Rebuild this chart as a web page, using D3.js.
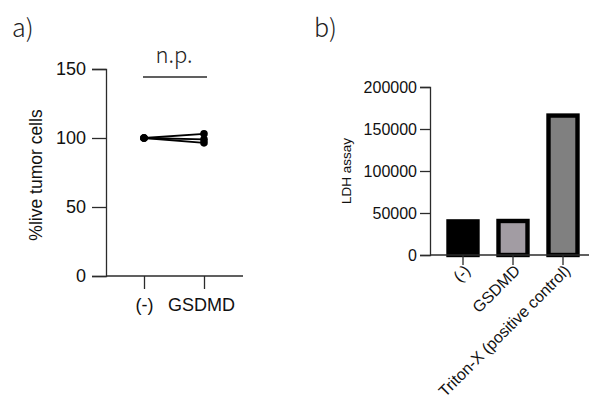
<!DOCTYPE html>
<html>
<head>
<meta charset="utf-8">
<script src="https://cdn.jsdelivr.net/npm/d3@7"></script>
<style>
  body { margin: 0; background: #fff; }
  svg { display: block; }
  svg text { font-family: "Liberation Sans", Arial, Helvetica, sans-serif; }
  svg text.panel-label { font-family: "Noto Sans CJK JP", "Noto Sans", sans-serif; font-weight: 300; fill: #222; }
</style>
</head>
<body>
<div id="chart"></div>
<script>
// panel a: paired values, %live tumor cells
const groupsA = ["(-)", "GSDMD"];
const controlVals = [100, 100, 100];
const gsdmdVals = [103, 99, 96.5];
const ticksA = [0, 50, 100, 150];

// panel b: LDH assay
const groupsB = ["(-)", "GSDMD", "Triton-X (positive control)"];
const ldhVals = [40000, 40500, 166000];
const ldhColors = ["#000000", "#a29ca3", "#808080"];
const ticksB = [0, 50000, 100000, 150000, 200000];

const width = 589;
const height = 398;
const axisColor = "#2b2b2b";

const svg = d3.select("#chart")
    .append("svg")
    .attr("width", width)
    .attr("height", height);

// ---- panel a ----
const xA = d3.scalePoint().domain(groupsA).range([144, 204]);
const yA = d3.scaleLinear().domain([0, 150]).range([276, 69]);

const gA = svg.append("g");

gA.append("text")
    .attr("class", "panel-label")
    .attr("font-size", 25)
    .attr("x", 12)
    .attr("y", 37)
    .text("a)");

const yAxisA = gA.append("g")
    .attr("transform", "translate(106,0)")
    .call(d3.axisLeft(yA).tickValues(ticksA).tickSize(14).tickPadding(6));

const xAxisA = gA.append("g")
    .attr("transform", "translate(0,276)")
    .call(d3.axisBottom(xA).tickSize(13).tickPadding(9));
xAxisA.select(".domain").attr("d", "M106,0H243");

[yAxisA, xAxisA].forEach(ax => {
    ax.select(".domain").attr("stroke", axisColor).attr("stroke-width", 1.3);
    ax.selectAll(".tick line").attr("stroke", axisColor).attr("stroke-width", 1.3);
    ax.selectAll("text").attr("font-size", 18).attr("fill", "#111");
});
xAxisA.selectAll(".tick text").attr("x", (d, i) => i === 0 ? 0 : -3);

gA.append("text")
    .attr("transform", "translate(42,175) rotate(-90)")
    .attr("text-anchor", "middle")
    .attr("font-size", 17.5)
    .attr("fill", "#111")
    .text("%live tumor cells");

// paired lines
const pairs = controlVals.map((v, i) => [v, gsdmdVals[i]]);
gA.selectAll(".pair")
    .data(pairs)
    .join("line")
    .attr("class", "pair")
    .attr("x1", xA(groupsA[0]))
    .attr("x2", xA(groupsA[1]))
    .attr("y1", d => yA(d[0]))
    .attr("y2", d => yA(d[1]))
    .attr("stroke", "#000")
    .attr("stroke-width", 1.8);

const points = pairs.flatMap(d => [
    { g: groupsA[0], v: d[0] },
    { g: groupsA[1], v: d[1] }
]);
gA.selectAll(".pt")
    .data(points)
    .join("circle")
    .attr("class", "pt")
    .attr("cx", d => xA(d.g))
    .attr("cy", d => yA(d.v))
    .attr("r", 3.8)
    .attr("fill", "#000");

// significance bar
gA.append("line")
    .attr("x1", 143)
    .attr("x2", 207)
    .attr("y1", 77)
    .attr("y2", 77)
    .attr("stroke", axisColor)
    .attr("stroke-width", 1.3);
gA.append("text")
    .attr("class", "panel-label")
    .attr("x", 174)
    .attr("y", 63)
    .attr("text-anchor", "middle")
    .attr("font-size", 22)
    .text("n.p.");

// ---- panel b ----
const xB = d3.scaleBand().domain(groupsB).range([438, 588]).paddingInner(0.34).paddingOuter(0.17);
const yB = d3.scaleLinear().domain([0, 200000]).range([255, 87]);

const gB = svg.append("g");

gB.append("text")
    .attr("class", "panel-label")
    .attr("font-size", 25)
    .attr("x", 314)
    .attr("y", 37)
    .text("b)");

gB.selectAll(".bar")
    .data(ldhVals)
    .join("rect")
    .attr("class", "bar")
    .attr("x", (d, i) => xB(groupsB[i]) + 2)
    .attr("width", xB.bandwidth() - 4)
    .attr("y", d => yB(d))
    .attr("height", d => yB(0) - yB(d))
    .attr("fill", (d, i) => ldhColors[i])
    .attr("stroke", "#000")
    .attr("stroke-width", 4.4);

const yAxisB = gB.append("g")
    .attr("transform", "translate(430,0)")
    .call(d3.axisLeft(yB).tickValues(ticksB).tickFormat(d3.format("d")).tickSize(10).tickPadding(3));

const xAxisB = gB.append("g")
    .attr("transform", "translate(0,255)")
    .call(d3.axisBottom(xB).tickSize(10).tickPadding(3));
xAxisB.select(".domain").attr("d", "M430,0H589");

[yAxisB, xAxisB].forEach(ax => {
    ax.select(".domain").attr("stroke", axisColor).attr("stroke-width", 1.3);
    ax.selectAll(".tick line").attr("stroke", axisColor).attr("stroke-width", 1.3);
    ax.selectAll("text").attr("font-size", 16).attr("fill", "#111");
});

xAxisB.selectAll(".tick text")
    .attr("text-anchor", "end")
    .attr("transform", "rotate(-45)")
    .attr("x", -6)
    .attr("y", 12)
    .attr("dy", "0.35em");

gB.append("text")
    .attr("transform", "translate(351,171) rotate(-90)")
    .attr("text-anchor", "middle")
    .attr("font-size", 13.5)
    .attr("fill", "#111")
    .text("LDH assay");
</script>
</body>
</html>
